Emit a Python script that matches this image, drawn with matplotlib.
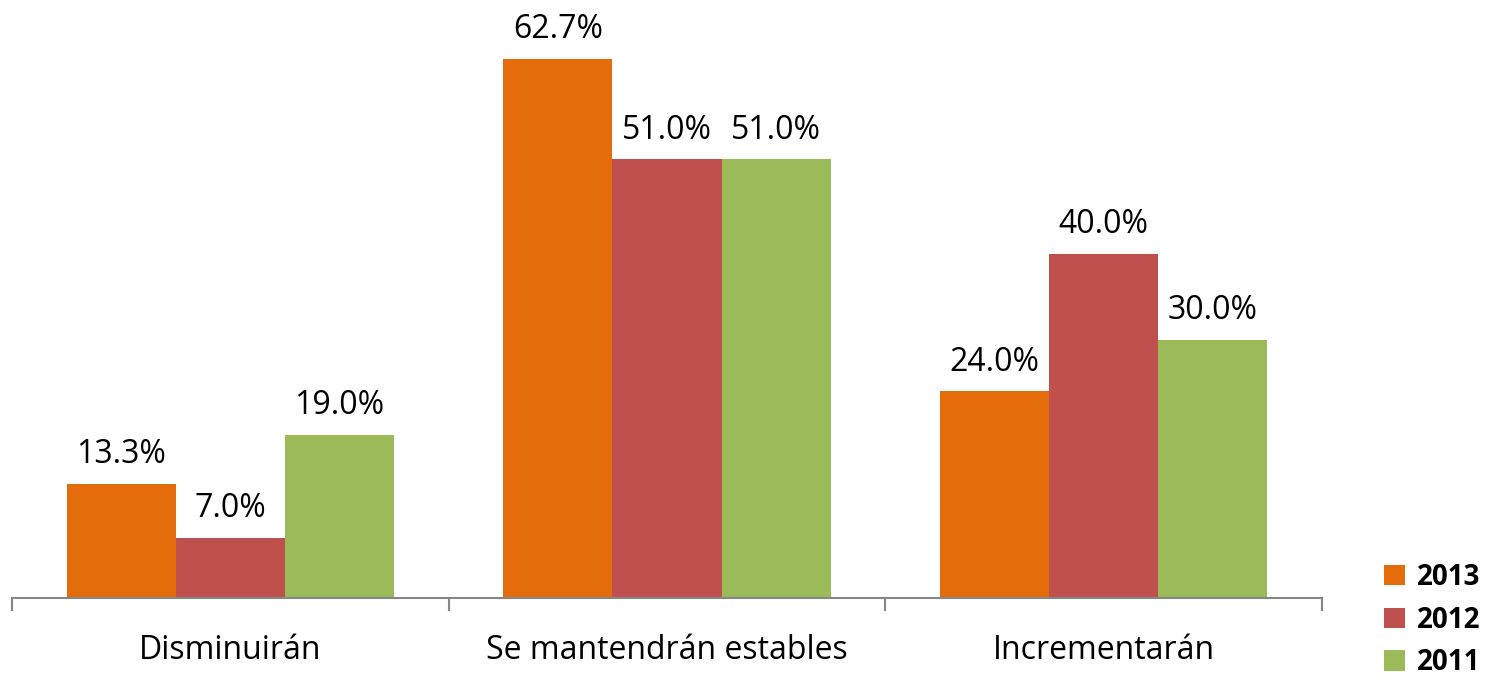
import matplotlib
matplotlib.use("Agg")
import matplotlib.pyplot as plt
from matplotlib.patches import Patch
import numpy as np

categories = ["Disminuirán", "Se mantendrán estables", "Incrementarán"]
series_names = ["2013", "2012", "2011"]
v2013 = [13.3, 62.7, 24.0]
v2012 = [7.0, 51.0, 40.0]
v2011 = [19.0, 51.0, 30.0]
values = [v2013, v2012, v2011]
colors = ["#E46C0A", "#C0504D", "#9BBB59"]

plt.rcParams['font.family'] = ['Open Sans', 'DejaVu Sans']

W, H = 1492, 683
fig = plt.figure(figsize=(W / 100, H / 100), dpi=100)
ax = fig.add_axes([12 / W, (H - 598) / H, (1322 - 12) / W, 598 / H])

x = np.arange(len(categories))
bw = 0.25
for i, (name, vals, c) in enumerate(zip(series_names, values, colors)):
    pos = x + (i - 1) * bw
    bars = ax.bar(pos, vals, width=bw, color=c, label=name)
    for b, v in zip(bars, vals):
        ax.annotate(f"{v:.1f}%", (b.get_x() + b.get_width() / 2, v),
                    xytext=(0, 9), textcoords="offset points",
                    ha="center", va="bottom", fontsize=23)

ax.set_xlim(-0.5, len(categories) - 0.5)
ax.set_ylim(0, 69.5)
ax.set_yticks([])
for s in ["top", "right", "left"]:
    ax.spines[s].set_visible(False)
ax.spines["bottom"].set_color("#868686")
ax.spines["bottom"].set_linewidth(1.5)

ax.set_xticks(np.arange(len(categories) + 1) - 0.5, minor=False)
ax.set_xticklabels([])
ax.tick_params(axis="x", which="major", length=9, width=1.5, color="#868686", direction="out")
ax.set_xticks(x, minor=True)
ax.set_xticklabels(categories, minor=True, fontsize=23)
ax.tick_params(axis="x", which="minor", length=0, pad=26)

handles = [Patch(facecolor=c, edgecolor="none") for c in colors]
leg = fig.legend(handles, series_names, loc="center left",
                 bbox_to_anchor=(1384 / W, (H - 620) / H), frameon=False,
                 borderpad=0, borderaxespad=0,
                 prop={"weight": "bold", "size": 20},
                 handlelength=0.76, handleheight=0.76, handletextpad=0.43,
                 labelspacing=0.5)

fig.savefig("out.png", dpi=100)
